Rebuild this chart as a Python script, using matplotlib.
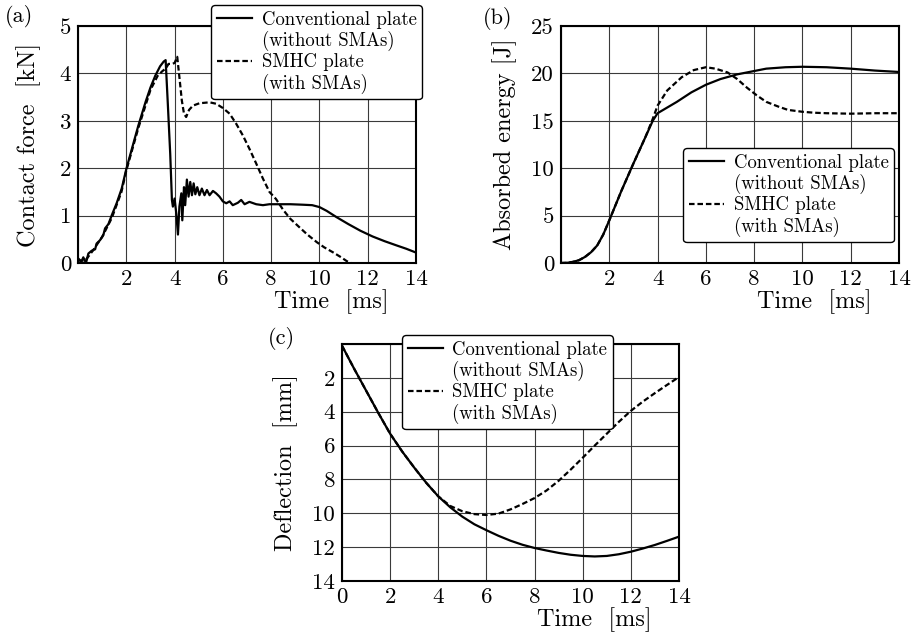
import matplotlib
matplotlib.use('Agg')
import matplotlib.pyplot as plt
from matplotlib.lines import Line2D

plt.rcParams['font.family'] = ['cmr10', 'DejaVu Serif']
plt.rcParams['axes.formatter.use_mathtext'] = True
plt.rcParams['mathtext.fontset'] = 'cm'

# (a) contact force
t_force_conv = [0, 0.14, 0.22, 0.33, 0.43, 0.57, 0.71, 0.77, 0.91, 1.05, 1.12, 1.26, 1.4, 1.6, 1.81,
                2.0, 2.2, 2.5, 2.8, 3.0, 3.2, 3.4, 3.55, 3.63, 3.72, 3.82, 3.89, 3.93, 4.0, 4.07,
                4.14, 4.2, 4.28, 4.32, 4.39, 4.44, 4.51, 4.58, 4.65, 4.72, 4.79, 4.86, 4.94, 5.03,
                5.13, 5.24, 5.34, 5.45, 5.59, 5.72, 5.86, 6.0, 6.14, 6.28, 6.41, 6.62, 6.76, 6.9,
                7.1, 7.38, 7.66, 7.93, 8.34, 8.8, 9.3, 9.7, 10.0, 10.3, 10.7, 11.2, 11.7, 12.2,
                12.7, 13.2, 13.6, 14.0]
force_conv = [0.1, 0.03, 0.12, 0.0, 0.2, 0.26, 0.29, 0.41, 0.48, 0.59, 0.73, 0.82, 1.01, 1.26, 1.57,
              1.98, 2.35, 2.9, 3.4, 3.7, 3.95, 4.15, 4.25, 4.28, 3.36, 2.3, 1.33, 1.19, 1.36, 1.05,
              0.6, 1.19, 1.47, 0.9, 1.6, 1.22, 1.76, 1.4, 1.71, 1.43, 1.68, 1.45, 1.6, 1.43,
              1.57, 1.43, 1.54, 1.43, 1.52, 1.47, 1.4, 1.3, 1.26, 1.3, 1.22, 1.27, 1.33, 1.24,
              1.29, 1.24, 1.22, 1.24, 1.24, 1.24, 1.23, 1.22, 1.18, 1.1, 0.97, 0.82, 0.68, 0.56,
              0.46, 0.37, 0.3, 0.22]
t_force_sma = [0, 0.3, 0.6, 1.0, 1.4, 1.8, 2.0, 2.5, 3.0, 3.3, 3.5, 3.63, 3.75, 3.9, 4.0, 4.11,
               4.2, 4.3, 4.39, 4.48, 4.6, 4.76, 5.03, 5.45, 5.72, 6.0, 6.28, 6.55, 6.83, 7.1, 7.38,
               7.66, 7.93, 8.2, 8.5, 8.8, 9.2, 9.5, 9.89, 10.2, 10.58, 10.9, 11.13, 11.3]
force_sma = [0.05, 0.05, 0.25, 0.55, 0.95, 1.5, 1.95, 2.85, 3.65, 3.95, 4.05, 4.1, 4.2, 4.2, 4.22,
             4.35, 3.92, 3.43, 3.15, 3.08, 3.23, 3.32, 3.37, 3.39, 3.36, 3.27, 3.15, 2.94, 2.69,
             2.41, 2.1, 1.78, 1.5, 1.35, 1.12, 0.93, 0.74, 0.6, 0.44, 0.33, 0.22, 0.12, 0.04, 0.0]

# (b) absorbed energy
t_energy = [0, 0.25, 0.5, 0.75, 1.0, 1.25, 1.5, 1.75, 2.0, 2.5, 3.0, 3.5, 3.8, 4.0, 4.4, 4.8, 5.4,
            6.0, 6.6, 7.3, 7.9, 8.5, 9.3, 10.0, 11.0, 12.0, 13.0, 14.0]
energy_conv = [0, 0.02, 0.12, 0.3, 0.65, 1.15, 1.85, 3.0, 4.5, 7.6, 10.5, 13.3, 15.0, 15.8, 16.4,
               17.0, 18.0, 18.8, 19.4, 19.9, 20.2, 20.5, 20.65, 20.7, 20.65, 20.5, 20.3, 20.15]
t_energy_sma = [0, 0.25, 0.5, 0.75, 1.0, 1.25, 1.5, 1.75, 2.0, 2.5, 3.0, 3.5, 3.8, 4.0, 4.4, 5.0,
                5.5, 6.0, 6.4, 6.9, 7.3, 7.7, 8.1, 8.5, 9.0, 9.4, 10.0, 10.5, 11.0, 12.0, 13.0, 14.0]
energy_sma = [0, 0.02, 0.12, 0.3, 0.65, 1.15, 1.85, 3.0, 4.5, 7.6, 10.5, 13.3, 15.2, 16.6, 18.2,
              19.6, 20.35, 20.65, 20.5, 20.1, 19.4, 18.5, 17.7, 17.0, 16.5, 16.15, 15.95, 15.85,
              15.8, 15.75, 15.8, 15.8]

# (c) deflection
t_defl = [0, 0.5, 1.0, 1.5, 2.0, 2.5, 3.0, 3.5, 4.0, 4.5, 5.0, 5.5, 6.0, 6.5, 7.0, 7.5, 8.0, 8.5,
          9.0, 9.5, 10.0, 10.5, 11.0, 11.5, 12.0, 12.5, 13.0, 13.5, 14.0]
defl_conv = [0.1, 1.45, 2.75, 4.05, 5.3, 6.35, 7.3, 8.2, 9.0, 9.65, 10.2, 10.65, 11.0, 11.33,
             11.62, 11.86, 12.05, 12.2, 12.34, 12.45, 12.52, 12.55, 12.52, 12.42, 12.27, 12.08,
             11.87, 11.63, 11.38]
defl_sma = [0.1, 1.45, 2.75, 4.05, 5.3, 6.35, 7.3, 8.2, 9.0, 9.57, 9.88, 10.05, 10.1, 10.02,
            9.77, 9.45, 9.1, 8.65, 8.08, 7.42, 6.72, 6.0, 5.3, 4.6, 3.95, 3.4, 2.9, 2.42, 1.95]

legend_labels = ['Conventional plate', '(without SMAs)', 'SMHC plate', '(with SMAs)']

W, H = 921, 635
fig = plt.figure(figsize=(W / 100, H / 100), dpi=100)
dash = (0, (2.5, 1.3))


def px_axes(x0, y0, x1, y1):
    return fig.add_axes([x0 / W, 1 - y1 / H, (x1 - x0) / W, (y1 - y0) / H])


def style(ax, ylabel, xticks, yticks, xlabels, ylabels):
    ax.set_xlim(0, 14)
    ax.set_xticks(xticks)
    ax.set_xticklabels(xlabels)
    ax.set_yticks(yticks)
    ax.set_yticklabels(ylabels)
    ax.grid(True, color='#3a3a3a', lw=0.8)
    ax.set_axisbelow(True)
    ax.tick_params(length=0, pad=5, labelsize=16.5)
    for s in ax.spines.values():
        s.set_linewidth(1.5)
    ax.set_xlabel('Time  [ms]', fontsize=17.5)
    ax.xaxis.set_label_coords(0.75, -0.11)
    ax.set_ylabel(ylabel, fontsize=17.5)


def add_legend(ax, right, top):
    # one entry per text line so the handles sit on the first line of each label
    handles = [Line2D([], [], color='k', lw=1.6),
               Line2D([], [], color='none'),
               Line2D([], [], color='k', lw=1.6, ls=dash),
               Line2D([], [], color='none')]
    leg = ax.legend(handles, legend_labels, loc='upper right',
                    bbox_to_anchor=(right / W, 1 - top / H), bbox_transform=fig.transFigure,
                    fontsize=13.5, labelspacing=0.12, handlelength=1.9, handletextpad=0.5,
                    borderpad=0.3, borderaxespad=0, fancybox=True, framealpha=1,
                    edgecolor='k')
    leg.get_frame().set_linewidth(1.0)
    leg.set_zorder(5)


# (a)
ax1 = px_axes(78, 26, 416, 263)
ax1.plot(t_force_conv, force_conv, color='k', lw=1.6)
ax1.plot(t_force_sma, force_sma, color='k', lw=1.6, ls=dash)
ax1.set_ylim(0, 5)
style(ax1, 'Contact force  [kN]', range(0, 15, 2), range(0, 6),
      [''] + [str(v) for v in range(2, 15, 2)], [str(v) for v in range(0, 6)])
ax1.yaxis.set_label_coords(-0.11, 0.5)
add_legend(ax1, 422, 5)
fig.text(19 / W, 1 - 17 / H, '(a)', fontsize=16, ha='center', va='center')

# (b)
ax2 = px_axes(561, 26, 899, 263)
ax2.plot(t_energy, energy_conv, color='k', lw=1.6)
ax2.plot(t_energy_sma, energy_sma, color='k', lw=1.6, ls=dash)
ax2.set_ylim(0, 25)
style(ax2, 'Absorbed energy [J]', range(0, 15, 2), range(0, 26, 5),
      [''] + [str(v) for v in range(2, 15, 2)], [str(v) for v in range(0, 26, 5)])
ax2.yaxis.set_label_coords(-0.13, 0.5)
add_legend(ax2, 894, 148)
fig.text(498 / W, 1 - 18 / H, '(b)', fontsize=16, ha='center', va='center')

# (c)
ax3 = px_axes(342, 344, 679, 581)
ax3.plot(t_defl, defl_conv, color='k', lw=1.6)
ax3.plot(t_defl, defl_sma, color='k', lw=1.6, ls=dash)
ax3.set_ylim(14, 0)
style(ax3, 'Deflection  [mm]', range(0, 15, 2), range(0, 15, 2),
      [str(v) for v in range(0, 15, 2)], [''] + [str(v) for v in range(2, 15, 2)])
ax3.yaxis.set_label_coords(-0.13, 0.5)
add_legend(ax3, 613, 335)
fig.text(281 / W, 1 - 339 / H, '(c)', fontsize=16, ha='center', va='center')

fig.savefig('out.png', dpi=100)
